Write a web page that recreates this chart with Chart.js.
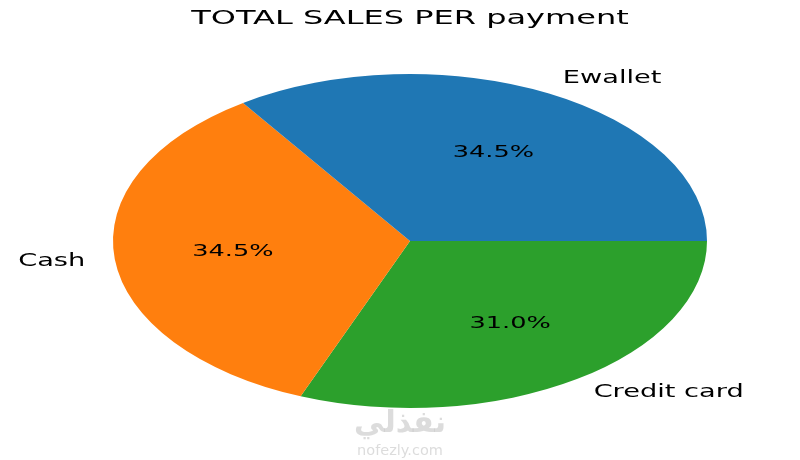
<!DOCTYPE html>
<html>
<head>
<meta charset="utf-8">
<script src="https://cdn.jsdelivr.net/npm/chart.js@4/dist/chart.umd.min.js"></script>
<style>
  html, body { margin: 0; padding: 0; background: #fff; }
  canvas { display: block; }
</style>
</head>
<body>
<canvas id="myChart" width="800" height="460"></canvas>
<script>
// matplotlib draws counter-clockwise from 3 o'clock, chart.js clockwise,
// so the arrays go in reverse order and start at 90deg
const labels = ['Credit card', 'Cash', 'Ewallet'];
const shares = [31.0, 34.5, 34.5];
const colors = ['#2ca02c', '#ff7f0e', '#1f77b4'];

const SX = 297 / 167;      // pie is stretched horizontally
const TEXT_SX = 1.6;       // text is stretched too
const FONT = '"DejaVu Sans", sans-serif';

function stretchedText(ctx, text, x, y, size, align, color) {
  ctx.save();
  ctx.font = size + 'px ' + FONT;
  ctx.fillStyle = color;
  ctx.textBaseline = 'middle';
  const w = ctx.measureText(text).width * TEXT_SX;
  let left = x;
  if (align === 'center') left = x - w / 2;
  if (align === 'right') left = x - w;
  ctx.translate(left, y);
  ctx.scale(TEXT_SX, 1);
  ctx.textAlign = 'left';
  ctx.fillText(text, 0, 0);
  ctx.restore();
}

const ellipsePlugin = {
  id: 'ellipse',
  beforeDatasetsDraw(chart) {
    const arc = chart.getDatasetMeta(0).data[0];
    const ctx = chart.ctx;
    ctx.save();
    ctx.translate(arc.x, 0);
    ctx.scale(SX, 1);
    ctx.translate(-arc.x, 0);
  },
  afterDatasetsDraw(chart) {
    const ctx = chart.ctx;
    ctx.restore();
    const meta = chart.getDatasetMeta(0);
    meta.data.forEach((arc, i) => {
      const mid = (arc.startAngle + arc.endAngle) / 2;
      const r = arc.outerRadius;
      const c = Math.cos(mid), s = Math.sin(mid);
      // category label at 1.1 r
      const lx = arc.x + c * r * 1.1 * SX;
      const ly = arc.y + s * r * 1.1;
      stretchedText(ctx, labels[i], lx, ly, 17, c >= 0 ? 'left' : 'right', '#000');
      // percentage at 0.6 r
      const px = arc.x + c * r * 0.6 * SX;
      const py = arc.y + s * r * 0.6;
      stretchedText(ctx, shares[i].toFixed(1) + '%', px, py, 16, 'center', '#000');
    });
    // title
    stretchedText(ctx, 'TOTAL SALES PER payment', 410, 19, 20, 'center', '#000');
    // watermark
    ctx.save();
    ctx.globalAlpha = 0.35;
    ctx.fillStyle = '#9a9a9a';
    ctx.textAlign = 'center';
    ctx.textBaseline = 'middle';
    ctx.font = 'bold 30px ' + FONT;
    ctx.fillText('نفذلي', 400, 424);
    ctx.font = '14.5px ' + FONT;
    ctx.fillText('nofezly.com', 400, 451);
    ctx.restore();
  }
};

const data = {
  labels: labels,
  datasets: [{
    data: shares,
    backgroundColor: colors,
    borderWidth: 0,
    radius: 167
  }]
};

const config = {
  type: 'pie',
  data: data,
  options: {
    responsive: false,
    animation: false,
    devicePixelRatio: 1,
    rotation: 90,
    layout: {
      padding: { top: 74, bottom: 52, left: 243, right: 223 }
    },
    plugins: {
      legend: { display: false },
      title: { display: false },
      tooltip: { enabled: false }
    },
    events: []
  },
  plugins: [ellipsePlugin]
};

const myChart = new Chart(document.getElementById('myChart'), config);
</script>
</body>
</html>
